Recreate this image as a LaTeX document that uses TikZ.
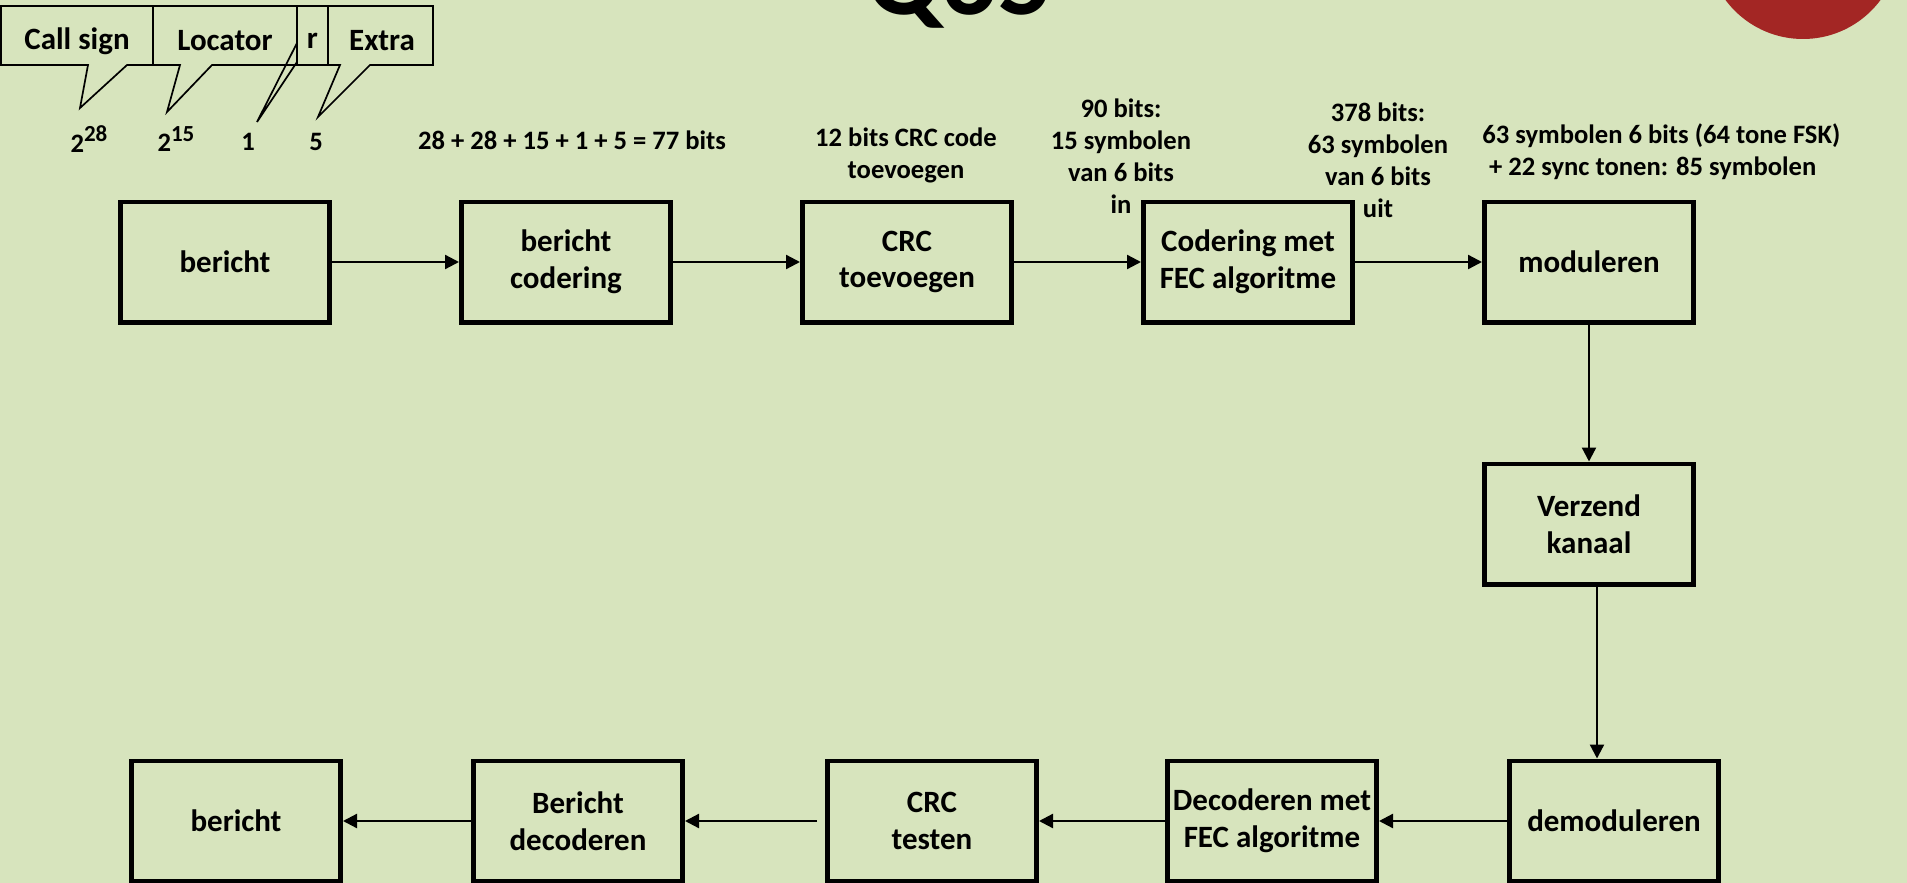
\documentclass[tikz,border=0pt]{standalone}
\usepackage{fontspec}
\setmainfont{Carlito}
\usepackage{tikz}
\usetikzlibrary{arrows.meta,positioning}
\definecolor{QBack}{RGB}{215,228,189}
\definecolor{QRed}{RGB}{163,38,36}
\newcommand{\blokfont}{\fontsize{15.5}{18.3}\selectfont\bfseries}
\newcommand{\nootfont}{\fontsize{13.3}{16}\selectfont\bfseries}
\newcommand{\macht}[1]{\raisebox{0.4em}{\fontsize{11.5}{11.5}\selectfont #1}}

\begin{document}
\begin{tikzpicture}[x=0.5pt, y=-0.5pt,
    blok/.style={draw=black, line width=2.3pt, minimum width=104.7pt, minimum height=60.2pt, align=center, inner sep=1pt, font=\blokfont},
    noot/.style={align=center, inner sep=0pt, font=\nootfont},
    ballon/.style={draw=black, line width=0.85pt, line join=miter},
    pijl/.style={-{Triangle[length=7pt,width=7pt]}, line width=1.15pt}]
    \path[use as bounding box] (0,0) rectangle (1907,883);
    \clip (0,0) rectangle (1907,883);
    \fill[QBack] (0,0) rectangle (1907,883);
    \fill[QRed] (1803,-57.5) circle[radius=48.25pt];
    \node[anchor=base, inner sep=0pt, font=\fontsize{55}{60}\selectfont\bfseries] (titel) at (960,15) {Q65};
    \draw[ballon] (1,6) -- (153,6) -- (153,65) -- (127,65) -- (80,108) -- (88,65) -- (1,65) -- cycle;
    \draw[ballon] (153,6) -- (297,6) -- (297,65) -- (212,65) -- (167,112) -- (180,65) -- (153,65) -- cycle;
    \draw[ballon] (297,6) -- (328,6) -- (328,65) -- (297,65) -- (297,62) -- (257,122) -- (297,43) -- cycle;
    \draw[ballon] (328,6) -- (433,6) -- (433,65) -- (370,65) -- (318,117) -- (340,65) -- (328,65) -- cycle;
    \node[font=\blokfont, inner sep=0pt] (roepnaam) at (77,41) {Call sign};
    \node[font=\blokfont, inner sep=0pt] (locator) at (225,41) {Locator};
    \node[font=\blokfont, inner sep=0pt] (rbit) at (312.5,41) {r};
    \node[font=\blokfont, inner sep=0pt] (extra) at (382,41) {Extra};
    \node[noot] (n28) at (89,139) {2\macht{28}};
    \node[noot] (n15) at (176,139) {2\macht{15}};
    \node[noot] (n1) at (248,142) {1};
    \node[noot] (n5) at (316,142) {5};

    \node[blok] (bericht) at (225,262) {bericht};
    \node[blok, right=63.5pt of bericht] (codering) {bericht\\codering};
    \node[blok, right=63.5pt of codering] (crc) {CRC\\toevoegen};
    \node[blok, right=63.5pt of crc] (fec) {Codering met\\FEC algoritme};
    \node[blok, right=63.5pt of fec] (moduleren) {moduleren};
    \node[blok, below=68.5pt of moduleren] (verzend) {Verzend\\kanaal};
    \node[blok, below=86pt of verzend, xshift=12.5pt] (demod) {demoduleren};
    \node[blok, left=64pt of demod] (decfec) {Decoderen met\\FEC algoritme};
    \node[blok, left=63pt of decfec] (crctest) {CRC\\testen};
    \node[blok, left=70pt of crctest] (decoderen) {Bericht\\decoderen};
    \node[blok, left=64pt of decoderen] (ontvangen) {bericht};

    \node[noot] (som) at (572,140) {28 + 28 + 15 + 1 + 5 = 77 bits};
    \node[noot] (crcnoot) at (906,155) {12 bits CRC code\\toevoegen};
    \node[noot] (innoot) at (1121,156) {90 bits:\\15 symbolen\\van 6 bits\\in};
    \node[noot] (uitnoot) at (1378,160) {378 bits:\\63 symbolen\\van 6 bits\\uit};
    \node[noot, align=left, anchor=west] (modnoot) at (1482,152) {63 symbolen 6 bits (64 tone FSK)\\\hspace*{0.25em}+ 22 sync tonen: 85 symbolen};

    \draw[pijl] (bericht) -- (codering);
    \draw[pijl] (codering) -- (crc);
    \draw[pijl] (crc) -- (fec);
    \draw[pijl] (fec) -- (moduleren);
    \draw[pijl] (moduleren) -- (verzend);
    \coordinate (kanaal) at ([xshift=4pt]verzend.south);
    \draw[pijl] (kanaal) -- (kanaal |- demod.north);
    \draw[pijl] (demod) -- (decfec);
    \draw[pijl] (decfec) -- (crctest);
    \draw[pijl, shorten <=4pt] (crctest) -- (decoderen);
    \draw[pijl] (decoderen) -- (ontvangen);
\end{tikzpicture}
\end{document}
